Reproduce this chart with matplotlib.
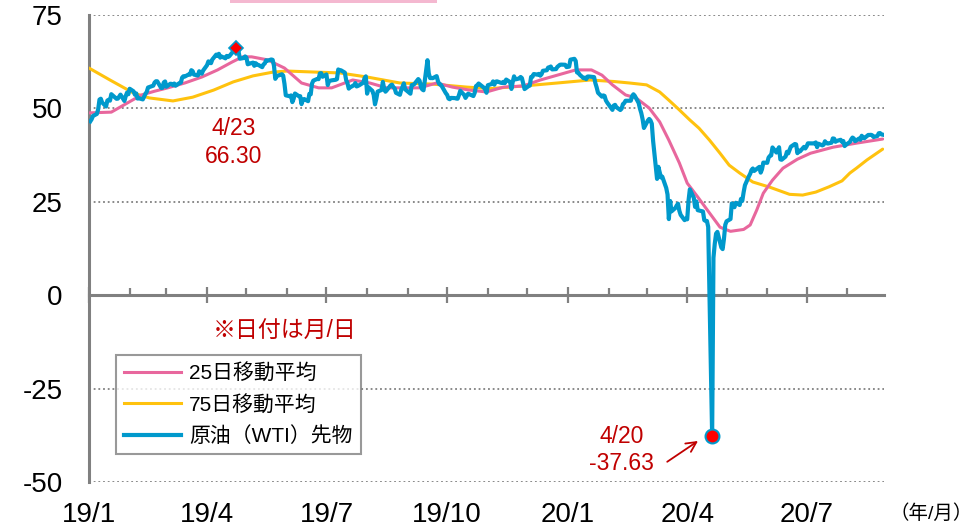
import matplotlib
matplotlib.use("Agg")
import matplotlib.pyplot as plt
import matplotlib.dates as mdates
import pandas as pd
from matplotlib.lines import Line2D
from matplotlib.patches import Rectangle

plt.rcParams['font.family'] = ['Liberation Sans', 'Noto Sans CJK JP', 'DejaVu Sans']

# ---------------- data ----------------
wti_dates = [
    "2019-01-02","2019-01-03","2019-01-04","2019-01-07","2019-01-08","2019-01-09","2019-01-10","2019-01-11","2019-01-14","2019-01-15","2019-01-16","2019-01-17","2019-01-18","2019-01-22","2019-01-23","2019-01-24","2019-01-25","2019-01-28","2019-01-29","2019-01-30","2019-01-31",
    "2019-02-01","2019-02-04","2019-02-05","2019-02-06","2019-02-07","2019-02-08","2019-02-11","2019-02-12","2019-02-13","2019-02-14","2019-02-15","2019-02-19","2019-02-20","2019-02-21","2019-02-22","2019-02-25","2019-02-26","2019-02-27","2019-02-28",
    "2019-03-01","2019-03-04","2019-03-05","2019-03-06","2019-03-07","2019-03-08","2019-03-11","2019-03-12","2019-03-13","2019-03-14","2019-03-15","2019-03-18","2019-03-19","2019-03-20","2019-03-21","2019-03-22","2019-03-25","2019-03-26","2019-03-27","2019-03-28","2019-03-29",
    "2019-04-01","2019-04-02","2019-04-03","2019-04-04","2019-04-05","2019-04-08","2019-04-09","2019-04-10","2019-04-11","2019-04-12","2019-04-15","2019-04-16","2019-04-17","2019-04-18","2019-04-22","2019-04-23","2019-04-24","2019-04-25","2019-04-26","2019-04-29","2019-04-30",
    "2019-05-01","2019-05-02","2019-05-03","2019-05-06","2019-05-07","2019-05-08","2019-05-09","2019-05-10","2019-05-13","2019-05-14","2019-05-15","2019-05-16","2019-05-17","2019-05-20","2019-05-21","2019-05-22","2019-05-23","2019-05-24","2019-05-28","2019-05-29","2019-05-30","2019-05-31",
    "2019-06-03","2019-06-04","2019-06-05","2019-06-06","2019-06-07","2019-06-10","2019-06-11","2019-06-12","2019-06-13","2019-06-14","2019-06-17","2019-06-18","2019-06-19","2019-06-20","2019-06-21","2019-06-24","2019-06-25","2019-06-26","2019-06-27","2019-06-28",
    "2019-07-01","2019-07-02","2019-07-03","2019-07-05","2019-07-08","2019-07-09","2019-07-10","2019-07-11","2019-07-12","2019-07-15","2019-07-16","2019-07-17","2019-07-18","2019-07-19","2019-07-22","2019-07-23","2019-07-24","2019-07-25","2019-07-26","2019-07-29","2019-07-30","2019-07-31",
    "2019-08-01","2019-08-02","2019-08-05","2019-08-06","2019-08-07","2019-08-08","2019-08-09","2019-08-12","2019-08-13","2019-08-14","2019-08-15","2019-08-16","2019-08-19","2019-08-20","2019-08-21","2019-08-22","2019-08-23","2019-08-26","2019-08-27","2019-08-28","2019-08-29","2019-08-30",
    "2019-09-03","2019-09-04","2019-09-05","2019-09-06","2019-09-09","2019-09-10","2019-09-11","2019-09-12","2019-09-13","2019-09-16","2019-09-17","2019-09-18","2019-09-19","2019-09-20","2019-09-23","2019-09-24","2019-09-25","2019-09-26","2019-09-27","2019-09-30",
    "2019-10-01","2019-10-02","2019-10-03","2019-10-04","2019-10-07","2019-10-08","2019-10-09","2019-10-10","2019-10-11","2019-10-14","2019-10-15","2019-10-16","2019-10-17","2019-10-18","2019-10-21","2019-10-22","2019-10-23","2019-10-24","2019-10-25","2019-10-28","2019-10-29","2019-10-30","2019-10-31",
    "2019-11-01","2019-11-04","2019-11-05","2019-11-06","2019-11-07","2019-11-08","2019-11-11","2019-11-12","2019-11-13","2019-11-14","2019-11-15","2019-11-18","2019-11-19","2019-11-20","2019-11-21","2019-11-22","2019-11-25","2019-11-26","2019-11-27","2019-11-29",
    "2019-12-02","2019-12-03","2019-12-04","2019-12-05","2019-12-06","2019-12-09","2019-12-10","2019-12-11","2019-12-12","2019-12-13","2019-12-16","2019-12-17","2019-12-18","2019-12-19","2019-12-20","2019-12-23","2019-12-24","2019-12-26","2019-12-27","2019-12-30","2019-12-31",
    "2020-01-02","2020-01-03","2020-01-06","2020-01-07","2020-01-08","2020-01-09","2020-01-10","2020-01-13","2020-01-14","2020-01-15","2020-01-16","2020-01-17","2020-01-21","2020-01-22","2020-01-23","2020-01-24","2020-01-27","2020-01-28","2020-01-29","2020-01-30","2020-01-31",
    "2020-02-03","2020-02-04","2020-02-05","2020-02-06","2020-02-07","2020-02-10","2020-02-11","2020-02-12","2020-02-13","2020-02-14","2020-02-18","2020-02-19","2020-02-20","2020-02-21","2020-02-24","2020-02-25","2020-02-26","2020-02-27","2020-02-28",
    "2020-03-02","2020-03-03","2020-03-04","2020-03-05","2020-03-06","2020-03-09","2020-03-10","2020-03-11","2020-03-12","2020-03-13","2020-03-16","2020-03-17","2020-03-18","2020-03-19","2020-03-20","2020-03-23","2020-03-24","2020-03-25","2020-03-26","2020-03-27","2020-03-30","2020-03-31",
    "2020-04-01","2020-04-02","2020-04-03","2020-04-06","2020-04-07","2020-04-08","2020-04-09","2020-04-13","2020-04-14","2020-04-15","2020-04-16","2020-04-17","2020-04-20","2020-04-21","2020-04-22","2020-04-23","2020-04-24","2020-04-27","2020-04-28","2020-04-29","2020-04-30",
    "2020-05-01","2020-05-04","2020-05-05","2020-05-06","2020-05-07","2020-05-08","2020-05-11","2020-05-12","2020-05-13","2020-05-14","2020-05-15","2020-05-18","2020-05-19","2020-05-20","2020-05-21","2020-05-22","2020-05-26","2020-05-27","2020-05-28","2020-05-29",
    "2020-06-01","2020-06-02","2020-06-03","2020-06-04","2020-06-05","2020-06-08","2020-06-09","2020-06-10","2020-06-11","2020-06-12","2020-06-15","2020-06-16","2020-06-17","2020-06-18","2020-06-19","2020-06-22","2020-06-23","2020-06-24","2020-06-25","2020-06-26","2020-06-29","2020-06-30",
    "2020-07-01","2020-07-02","2020-07-06","2020-07-07","2020-07-08","2020-07-09","2020-07-10","2020-07-13","2020-07-14","2020-07-15","2020-07-16","2020-07-17","2020-07-20","2020-07-21","2020-07-22","2020-07-23","2020-07-24","2020-07-27","2020-07-28","2020-07-29","2020-07-30","2020-07-31",
    "2020-08-03","2020-08-04","2020-08-05","2020-08-06","2020-08-07","2020-08-10","2020-08-11","2020-08-12","2020-08-13","2020-08-14","2020-08-17","2020-08-18","2020-08-19","2020-08-20","2020-08-21","2020-08-24","2020-08-25","2020-08-26","2020-08-27","2020-08-28",
]
wti_values = [
    46.54,47.09,47.96,48.52,49.78,52.36,52.59,51.59,50.51,52.11,52.31,52.07,53.80,52.57,52.62,53.13,53.69,51.99,53.31,54.23,53.79,
    55.26,54.56,53.66,54.01,52.64,52.72,52.41,53.10,53.90,54.41,55.59,56.09,56.92,57.26,57.26,55.48,55.50,56.94,57.22,
    55.80,56.59,56.56,56.22,56.66,56.07,56.79,56.87,58.26,58.61,58.52,59.09,59.03,60.23,59.98,59.04,58.82,59.94,59.41,59.30,60.14,
    61.59,62.58,62.46,62.10,63.08,64.40,64.05,64.61,63.58,63.89,63.40,64.05,63.76,64.00,65.70,66.30,65.89,65.21,63.30,63.50,63.91,
    63.60,61.81,61.94,62.25,61.40,62.12,61.70,61.66,61.04,61.78,62.02,62.87,62.76,63.10,62.99,61.42,57.91,58.63,59.14,58.81,56.59,53.50,
    53.25,53.48,51.68,52.59,53.99,53.26,53.27,51.14,52.28,52.51,51.93,53.90,53.76,56.65,57.43,57.90,57.83,59.38,59.43,58.47,
    59.09,56.25,57.34,57.51,57.66,57.83,60.43,60.20,60.21,59.58,57.62,56.78,55.30,55.63,56.22,56.77,55.88,56.02,56.20,56.87,58.05,58.58,
    53.95,55.66,54.69,53.63,51.09,52.54,54.50,54.93,57.10,55.23,54.47,54.87,56.21,56.34,55.68,55.35,54.17,53.64,54.93,55.78,56.71,55.10,
    53.94,56.26,56.30,56.52,57.85,57.40,55.75,55.09,54.85,62.90,59.34,58.11,58.13,58.09,58.64,57.29,56.49,56.41,55.91,54.07,
    53.62,52.64,52.45,52.81,52.75,52.63,52.59,53.55,54.70,53.59,52.81,53.36,53.93,53.78,53.31,54.16,55.97,56.23,56.66,55.81,55.54,55.06,54.18,
    56.20,56.54,57.23,56.35,57.15,57.24,56.86,56.80,57.12,56.77,57.72,57.05,55.21,57.11,58.58,57.77,58.01,58.41,58.11,55.17,
    55.96,56.10,58.43,58.43,59.20,59.02,59.24,58.76,59.18,60.07,60.21,60.94,60.93,61.22,60.44,60.52,61.11,61.68,61.72,61.68,61.06,
    61.18,63.05,63.27,62.70,59.61,59.56,59.04,58.08,58.23,57.81,58.52,58.54,58.38,56.74,55.59,54.19,53.14,53.48,53.33,52.14,51.56,
    50.11,49.61,50.75,50.95,50.32,49.57,49.94,51.17,51.42,52.05,52.05,53.29,53.78,53.38,51.43,49.90,48.73,47.09,44.76,
    46.75,47.18,46.78,45.90,41.28,31.13,34.36,32.98,31.50,31.73,28.70,26.95,20.37,25.22,22.43,23.36,24.01,24.49,22.60,21.51,20.09,20.48,
    20.31,25.32,28.34,26.08,23.63,25.09,22.76,22.41,20.11,19.87,19.87,18.27,-37.63,10.01,13.78,16.50,16.94,12.78,12.34,15.06,18.84,
    19.78,20.39,24.56,23.99,23.55,24.74,24.14,25.78,25.29,27.56,29.43,31.82,32.50,33.49,33.92,33.25,34.35,32.81,33.71,35.49,
    35.44,36.81,37.29,37.41,39.55,38.19,38.94,39.60,36.34,36.26,37.12,38.38,37.96,38.84,39.75,40.46,40.37,38.01,38.72,38.49,39.70,39.27,
    39.82,40.65,40.63,40.62,40.90,39.62,40.55,40.10,40.29,41.20,40.75,40.59,40.81,41.96,41.90,41.07,41.29,41.60,41.04,41.27,39.92,40.27,
    41.01,41.70,42.19,41.95,41.22,41.94,41.61,42.67,42.24,42.01,42.89,42.89,42.93,42.82,42.34,42.62,43.35,43.39,43.04,42.97,
]

ma25_dates = [
    "2019-01-01","2019-01-18","2019-01-30","2019-02-10","2019-02-20","2019-03-02","2019-03-15","2019-03-28",
    "2019-04-09","2019-04-20","2019-04-28","2019-05-05","2019-05-17","2019-05-30","2019-06-12","2019-06-25",
    "2019-07-05","2019-07-21","2019-08-03","2019-08-16","2019-08-28","2019-09-10","2019-09-23","2019-10-05",
    "2019-10-18","2019-10-31","2019-11-13","2019-11-28","2019-12-11","2019-12-24","2020-01-07","2020-01-19",
    "2020-01-27","2020-02-04","2020-02-14","2020-02-22","2020-03-03","2020-03-11","2020-03-18","2020-03-26",
    "2020-04-01","2020-04-09","2020-04-18","2020-04-26","2020-05-04","2020-05-14","2020-05-19",
    "2020-05-24","2020-05-29","2020-06-05","2020-06-13","2020-06-24","2020-07-04","2020-07-21","2020-08-08",
    "2020-08-28",
]
ma25_values = [
    48.8, 49.0, 51.4, 53.6, 54.6, 55.5, 56.8, 58.4,
    60.3, 62.4, 63.8, 63.8, 63.0, 60.8, 56.8, 55.5,
    55.5, 57.6, 56.8, 55.5, 55.5, 55.5, 56.8, 55.7,
    54.9, 54.4, 55.7, 56.0, 57.6, 58.9, 60.3, 60.3,
    58.9, 56.3, 53.6, 52.8, 50.1, 46.4, 41.5, 35.4,
    30.0, 26.3, 22.0, 18.2, 17.1, 17.6, 18.8,
    22.8, 27.3, 30.8, 34.0, 36.4, 38.0, 39.6, 40.7,
    41.8,
]

ma75_dates = [
    "2019-01-01","2019-01-17","2019-02-04","2019-02-16","2019-03-06","2019-03-21","2019-04-06","2019-04-21",
    "2019-05-06","2019-05-21","2019-06-01","2019-06-24","2019-07-11","2019-08-01","2019-08-26","2019-09-20",
    "2019-10-16","2019-11-03","2019-11-28","2019-12-24","2020-01-18","2020-02-05","2020-02-17","2020-03-01",
    "2020-03-11","2020-03-18","2020-03-26","2020-04-03","2020-04-10","2020-04-18","2020-04-26","2020-05-03",
    "2020-05-11","2020-05-21","2020-06-03","2020-06-18","2020-06-28","2020-07-08","2020-07-18","2020-07-28",
    "2020-08-03","2020-08-08","2020-08-16","2020-08-28",
]
ma75_values = [
    60.8, 57.6, 54.1, 52.8, 52.0, 53.0, 54.9, 57.1,
    58.7, 59.7, 60.0, 59.7, 59.5, 58.4, 56.8, 56.5,
    55.7, 55.3, 56.0, 56.8, 57.6, 57.2, 56.8, 56.3,
    54.4, 52.2, 49.6, 46.9, 44.7, 41.5, 38.0, 34.8,
    32.7, 30.3, 28.9, 27.0, 26.8, 27.6, 29.0, 30.6,
    32.7, 34.0, 36.2, 39.1,
]

series_labels = ["25日移動平均", "75日移動平均", "原油（WTI）先物"]
tick_dates = ["2019-01-01", "2019-04-01", "2019-07-01", "2019-10-01", "2020-01-01", "2020-04-01", "2020-07-01"]
tick_labels = ["19/1", "19/4", "19/7", "19/10", "20/1", "20/4", "20/7"]
y_ticks = [-50, -25, 0, 25, 50, 75]

peak_date, peak_value, peak_label = "2019-04-23", 66.30, "4/23"
low_date, low_value, low_label = "2020-04-20", -37.63, "4/20"

# ---------------- style ----------------
C_WTI = "#0099CC"
C_MA25 = "#E8679D"
C_MA75 = "#FFC20E"
C_RED = "#C00000"
C_AXIS = "#808080"

fig = plt.figure(figsize=(9.77, 5.31), dpi=100)
ax = fig.add_axes([89 / 977, 1 - 482 / 531, 795 / 977, 467 / 531])

wd = pd.to_datetime(wti_dates)
d25 = pd.to_datetime(ma25_dates)
d75 = pd.to_datetime(ma75_dates)

ax.plot(d75, ma75_values, color=C_MA75, lw=2.2, zorder=3, solid_capstyle='round', solid_joinstyle='round')
ax.plot(d25, ma25_values, color=C_MA25, lw=2.2, zorder=4, solid_capstyle='round', solid_joinstyle='round')
ax.plot(wd, wti_values, color=C_WTI, lw=3.0, zorder=5, solid_joinstyle='round')

# highlighted points
ax.plot(pd.to_datetime([peak_date]), [peak_value], marker='D', ms=7, color='red',
        markeredgecolor=C_WTI, markeredgewidth=1.2, zorder=6, ls='none')
ax.plot(pd.to_datetime([low_date]), [low_value], marker='o', ms=10, color='red',
        markeredgecolor=C_WTI, markeredgewidth=1.5, zorder=6, ls='none')

ax.set_xlim(pd.Timestamp("2019-01-01"), pd.Timestamp("2020-08-29"))
ax.set_ylim(-50, 75)

# spines
for s in ['top', 'right']:
    ax.spines[s].set_visible(False)
ax.spines['left'].set_color(C_AXIS)
ax.spines['left'].set_linewidth(2.2)
ax.spines['bottom'].set_position(('data', 0))
ax.spines['bottom'].set_color(C_AXIS)
ax.spines['bottom'].set_linewidth(2.2)
ax.spines['bottom'].set_zorder(2)

# ticks
ax.xaxis.set_major_locator(mdates.MonthLocator(bymonth=[1, 4, 7, 10]))
ax.xaxis.set_minor_locator(mdates.MonthLocator())
ax.tick_params(axis='x', which='major', direction='inout', length=11, width=1.6,
               color=C_AXIS, labelbottom=False)
ax.tick_params(axis='x', which='minor', direction='in', length=5, width=1.6, color=C_AXIS)
ax.set_yticks(y_ticks)
ax.set_yticklabels([str(v) for v in y_ticks])
ax.tick_params(axis='y', length=0, pad=19, labelsize=20)

for d, lab in zip(tick_dates, tick_labels):
    ax.text(pd.Timestamp(d), -0.071, lab, transform=ax.get_xaxis_transform(),
            ha='center', va='center', fontsize=20)
fig.text(931 / 977, 1 - 514 / 531, "（年/月）", ha='center', va='center', fontsize=14)

# grid
ax.yaxis.grid(True, color=C_AXIS, linestyle=(0, (1, 1.6)), linewidth=1.3)
ax.set_axisbelow(True)

# annotations
ax.text(pd.Timestamp("2019-04-21"), 44.7, peak_label, color=C_RED, ha='center', va='center', fontsize=16.5)
ax.text(pd.Timestamp("2019-04-21"), 37.2, f"{peak_value:.2f}", color=C_RED, ha='center', va='center', fontsize=16.5)
ax.text(pd.Timestamp("2020-02-11"), -37.8, low_label, color=C_RED, ha='center', va='center', fontsize=16.5)
ax.text(pd.Timestamp("2020-02-11"), -45.0, f"{low_value:.2f}", color=C_RED, ha='center', va='center', fontsize=16.5)
ax.annotate('', xy=(pd.Timestamp("2020-04-11"), -38.6), xytext=(pd.Timestamp("2020-03-15"), -45.0),
            arrowprops=dict(arrowstyle='->', color=C_RED, lw=1.3, mutation_scale=18))
ax.text(pd.Timestamp("2019-05-30"), -9.6, "※日付は月/日", color=C_RED, ha='center', va='center', fontsize=16.5)

# legend
handles = [Line2D([], [], color=C_MA25, lw=2.2),
           Line2D([], [], color=C_MA75, lw=2.2),
           Line2D([], [], color=C_WTI, lw=3.0)]
leg = ax.legend(handles, series_labels, loc='upper left', bbox_to_anchor=(0.034, 0.272),
                borderaxespad=0, fontsize=15, frameon=True, fancybox=False,
                handlelength=2.7, handletextpad=0.4, labelspacing=0.55, borderpad=0.4)
leg.get_frame().set_edgecolor(C_AXIS)
leg.get_frame().set_linewidth(1.5)
leg.set_zorder(10)

# pink box cut at the top edge
fig.patches.append(Rectangle((230 / 977, 1 - 3 / 531), 207 / 977, 0.02, transform=fig.transFigure,
                             facecolor="#F4B8D0", edgecolor='none', zorder=0))

fig.savefig("out.png", dpi=100)
